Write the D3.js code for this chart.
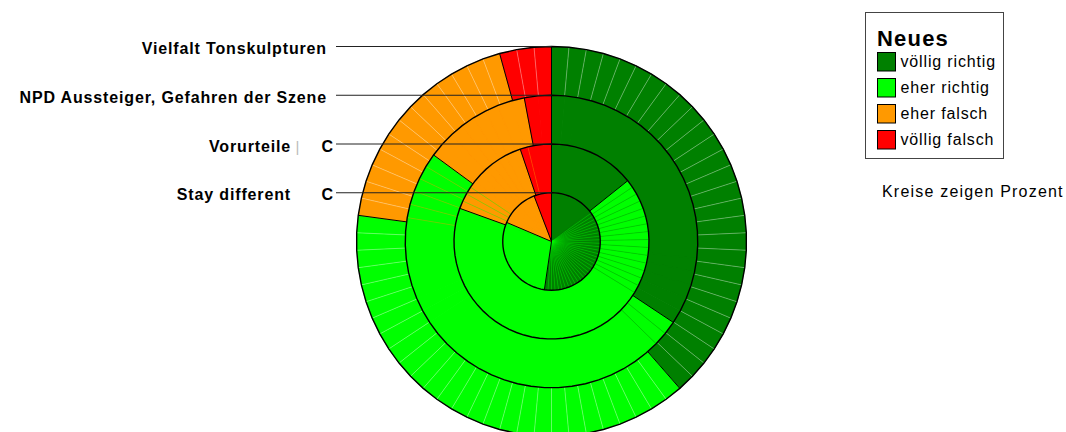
<!DOCTYPE html>
<html>
<head>
<meta charset="utf-8">
<script src="https://cdn.jsdelivr.net/npm/d3@7"></script>
<style>
  body { margin: 0; background: #fff; }
  svg { display: block; font-family: "Liberation Sans", Arial, sans-serif; }
</style>
</head>
<body>
<svg id="chart" width="1066" height="432"></svg>
<script>
// Kategorien (aussen -> innen)
const categories = ["Vielfalt Tonskulpturen", "NPD Aussteiger, Gefahren der Szene", "Vorurteile", "Stay different"];
const labelTails = ["", "", "C", "C"];
const answers = ["völlig richtig", "eher richtig", "eher falsch", "völlig falsch"];
// Anzahl Antworten je Kreis (ein Segment = eine Antwort)
const voelligRichtig = [27, 23, 11, 45];
const eherRichtig = [27, 34, 51, 25];
const eherFalsch = [13, 8, 11, 11];
const voelligFalsch = [3, 2, 4, 5];
const legendTitle = "Neues";
const note = "Kreise zeigen Prozent";

const colors = ["#008000", "#00ff00", "#ff9900", "#ff0000"];
const svg = d3.select("#chart");
const cx = 551.5, cy = 241.5;

const color = d3.scaleOrdinal().domain(answers).range(colors);
const radius = d3.scaleLinear().domain([0, categories.length]).range([0, 195]);

const rings = categories.map((name, i) => {
    const counts = [voelligRichtig[i], eherRichtig[i], eherFalsch[i], voelligFalsch[i]];
    const n = d3.sum(counts);
    const slices = [];
    counts.forEach((c, j) => { for (let k = 0; k < c; k++) slices.push(answers[j]); });
    return {
        name, counts, n, slices,
        r: radius(categories.length - i),
        angle: d3.scaleLinear().domain([0, n]).range([0, 2 * Math.PI])
    };
});

const pt = (a, r) => [cx + r * Math.sin(a), cy - r * Math.cos(a)];

// Farbe des darunter liegenden Kreises (fuer die feinen Fugen)
function colorBelow(ring, a) {
    if (!ring) return "#ffffff";
    const k = Math.min(ring.n - 1, Math.floor(ring.angle.invert(a) + 1e-6));
    return color(ring.slices[k]);
}

const plot = svg.append("g");

rings.forEach((ring, i) => {
    const below = rings[i - 1];
    const layer = plot.append("g");

    // Segmente
    layer.append("g")
        .selectAll("path")
        .data(ring.slices)
        .enter().append("path")
        .attr("d", (d, k) => {
            const p1 = pt(ring.angle(k), ring.r), p2 = pt(ring.angle(k + 1), ring.r);
            return `M${cx},${cy}L${p1}L${p2}Z`;
        })
        .attr("fill", d => color(d))
        .attr("stroke", d => color(d))
        .attr("stroke-width", 0.4);

    // Fugen zwischen den Segmenten
    const seams = d3.range(1, ring.n).filter(k => ring.slices[k] === ring.slices[k - 1]);
    layer.append("g")
        .selectAll("line")
        .data(seams)
        .enter().append("line")
        .attr("x1", cx).attr("y1", cy)
        .attr("x2", k => pt(ring.angle(k), ring.r)[0])
        .attr("y2", k => pt(ring.angle(k), ring.r)[1])
        .attr("stroke", k => colorBelow(below, ring.angle(k)))
        .attr("stroke-opacity", 0.55)
        .attr("stroke-width", 0.6);

    // Grenzen zwischen den Antworten
    const bounds = [0].concat(Array.from(d3.cumsum(ring.counts)).slice(0, -1));
    layer.append("g")
        .selectAll("line")
        .data(bounds)
        .enter().append("line")
        .attr("x1", cx).attr("y1", cy)
        .attr("x2", c => pt(ring.angle(c), ring.r)[0])
        .attr("y2", c => pt(ring.angle(c), ring.r)[1])
        .attr("stroke", "#000")
        .attr("stroke-width", 1);

    // Umriss
    layer.append("path")
        .attr("d", d3.line()(d3.range(ring.n).map(k => pt(ring.angle(k), ring.r))) + "Z")
        .attr("fill", "none")
        .attr("stroke", "#000")
        .attr("stroke-width", 1.4);
});

// Beschriftung links mit Linien
const labels = svg.append("g");
rings.forEach((ring, i) => {
    const y = cy - ring.r;
    labels.append("line")
        .attr("x1", 336).attr("x2", cx)
        .attr("y1", y).attr("y2", y)
        .attr("stroke", "#222")
        .attr("stroke-width", 1);
    const tail = labelTails[i];
    labels.append("text")
        .attr("x", tail ? 291 : 327)
        .attr("y", y + 7.5)
        .attr("text-anchor", "end")
        .attr("font-size", 16)
        .attr("font-weight", "bold")
        .attr("letter-spacing", 0.85)
        .text(ring.name);
    if (tail) {
        labels.append("text")
            .attr("x", 333)
            .attr("y", y + 7.5)
            .attr("text-anchor", "end")
            .attr("font-size", 16)
            .attr("font-weight", "bold")
            .text(tail);
    }
    if (i === 2) {
        labels.append("text")
            .attr("x", 295.5)
            .attr("y", y + 7.5)
            .attr("font-size", 15)
            .attr("fill", "#bbb")
            .text("|");
    }
});

// Legende
const legend = svg.append("g");
legend.append("rect")
    .attr("x", 865.5).attr("y", 12.5)
    .attr("width", 138).attr("height", 146)
    .attr("fill", "#fff")
    .attr("stroke", "#444");
legend.append("text")
    .attr("x", 877).attr("y", 46)
    .attr("font-size", 22)
    .attr("font-weight", "bold")
    .attr("letter-spacing", 1.2)
    .text(legendTitle);
const item = legend.selectAll("g.item")
    .data(answers)
    .enter().append("g")
    .attr("transform", (d, i) => `translate(877.5, ${52.5 + i * 26})`);
item.append("rect")
    .attr("width", 18).attr("height", 18.5)
    .attr("fill", d => color(d))
    .attr("stroke", "#000");
item.append("text")
    .attr("x", 23).attr("y", 14.5)
    .attr("font-size", 16)
    .attr("letter-spacing", 0.85)
    .text(d => d);

svg.append("text")
    .attr("x", 882).attr("y", 197)
    .attr("font-size", 16)
    .attr("letter-spacing", 1.2)
    .text(note);
</script>
</body>
</html>
